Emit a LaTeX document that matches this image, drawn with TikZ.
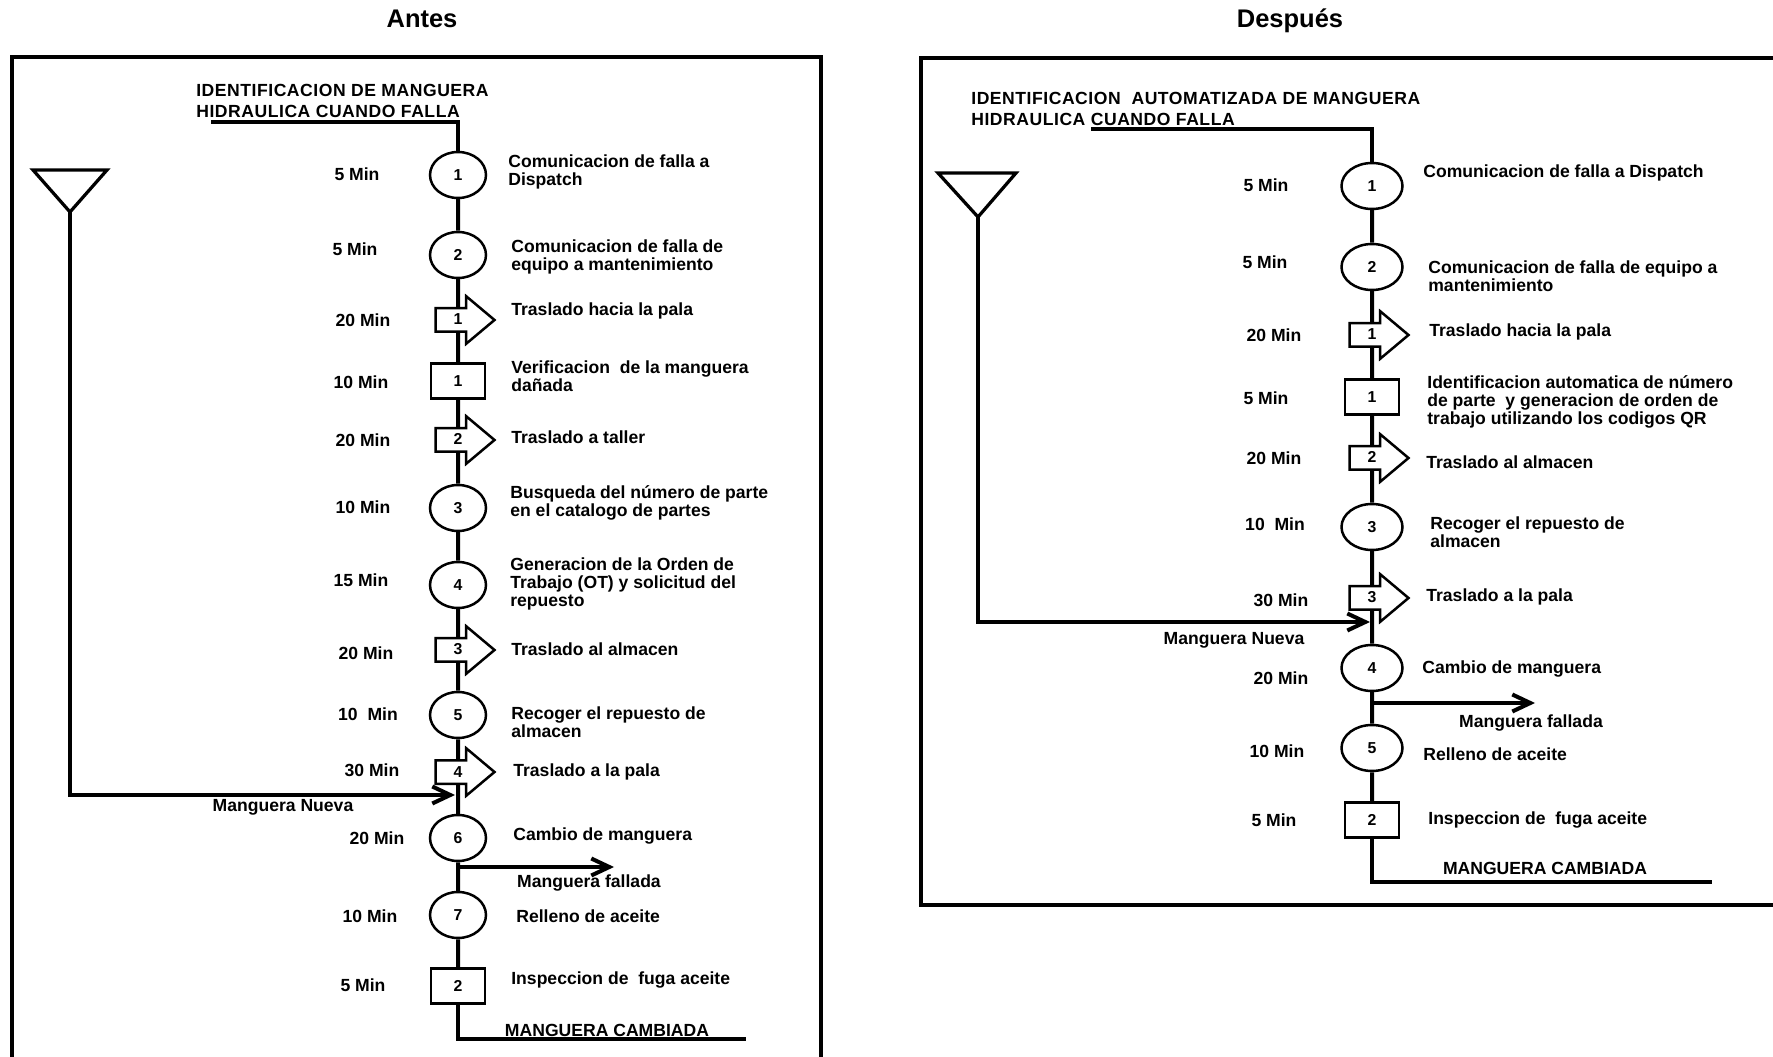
\documentclass[tikz,border=0pt]{standalone}
\usepackage{fontspec}
\setmainfont{Liberation Sans}
\usepackage{tikz}
\usetikzlibrary{arrows.meta,positioning,shapes.geometric,shapes.arrows}
\tikzset{
	flowline/.style={line width=0.8mm},
	frameline/.style={line width=0.8mm},
	opcircle/.style={draw, ellipse, fill=white, line width=0.5mm, minimum width=#1,
		minimum height=9.2mm, inner sep=0pt, font=\bfseries\fontsize{9}{9}\selectfont},
	opcircle/.default=11.2mm,
	inspbox/.style={draw, fill=white, line width=0.5mm, minimum width=10.8mm,
		minimum height=7mm, inner sep=0pt, font=\bfseries\fontsize{9}{9}\selectfont},
	movearrow/.style={draw, fill=white, single arrow, line width=0.5mm,
		single arrow head extend=2.4mm, single arrow tip angle=80,
		minimum height=11.8mm, inner xsep=0.5mm, inner ysep=1.1mm,
		text height=2mm, text depth=0pt, font=\bfseries\fontsize{9}{9}\selectfont},
	timelabel/.style={inner sep=0pt, font=\bfseries\fontsize{10}{12}\selectfont},
	steptext/.style={anchor=west, align=left, inner sep=0pt,
		font=\bfseries\fontsize{10}{10.3}\selectfont},
	sidearrow/.style={-{Straight Barb[length=3.6mm, width=3.4mm]}, line width=0.8mm}
}

\begin{document}
\begin{tikzpicture}[
			x=0.2mm, y=-0.2mm,
			paneltitle/.style={anchor=base, font=\bfseries\fontsize{14.5}{16}\selectfont},
			proctitle/.style={anchor=west, align=left, inner sep=0pt,
				font=\bfseries\fontsize{10}{12}\selectfont\addfontfeature{LetterSpace=3}}
			]
			\useasboundingbox (0,0) rectangle (1773,1057);
			
			%% -- Headers and frames
			\node[paneltitle] (hantes) at (422,28) {Antes};
			\node[paneltitle] (hdespues) at (1290,28) {Después};
			\draw[frameline] (12,1057) -- (12,57) -- (821,57) -- (821,1057);
			\draw[frameline] (1773,58) -- (921,58) -- (921,905) -- (1773,905);
			
			%% -- Antes: process name
			\node[proctitle] (lname) at (196,101)
			{IDENTIFICACION DE MANGUERA\\HIDRAULICA CUANDO FALLA};
			\coordinate (lstart) at (211,122);
			
			%% -- Antes: steps on the main line
			\node[opcircle] (l1) at (458,175) {1};
			\node[opcircle] (l2) at (458,255) {2};
			\node[movearrow] (a1) at (458,320) {1};
			\node[inspbox] (s1) at (458,381) {1};
			\node[movearrow] (a2) at (458,440) {2};
			\node[opcircle] (l3) at (458,508) {3};
			\node[opcircle] (l4) at (458,585) {4};
			\node[movearrow] (a3) at (458,650) {3};
			\node[opcircle] (l5) at (458,715) {5};
			\node[movearrow] (a4) at (458,772) {4};
			\node[opcircle] (l6) at (458,838) {6};
			\node[opcircle] (l7) at (458,915) {7};
			\node[inspbox] (s2) at (458,986) {2};
			\coordinate (lend) at (746,1039);
			
			%% -- Antes: times
			\node[timelabel] (tl1) at (357,174) {5 Min};
			\node[timelabel] (tl2) at (355,249) {5 Min};
			\node[timelabel] (tl3) at (363,320) {20 Min};
			\node[timelabel] (tl4) at (361,382) {10 Min};
			\node[timelabel] (tl5) at (363,440) {20 Min};
			\node[timelabel] (tl6) at (363,507) {10 Min};
			\node[timelabel] (tl7) at (361,580) {15 Min};
			\node[timelabel] (tl8) at (366,653) {20 Min};
			\node[timelabel] (tl9) at (368,714) {10\ \ Min};
			\node[timelabel] (tl10) at (372,770) {30 Min};
			\node[timelabel] (tl11) at (377,838) {20 Min};
			\node[timelabel] (tl12) at (370,916) {10 Min};
			\node[timelabel] (tl13) at (363,985) {5 Min};
			
			%% -- Antes: step texts
			\node[steptext] (dl1) at (508,172) {Comunicacion de falla a\\Dispatch};
			\node[steptext] (dl2) at (511,257) {Comunicacion de falla de\\equipo a mantenimiento};
			\node[steptext] (dl3) at (511,311) {Traslado hacia la pala};
			\node[steptext] (dl4) at (511,376) {Verificacion\ \ de la manguera\\dañada};
			\node[steptext] (dl5) at (511,437) {Traslado a taller};
			\node[steptext] (dl6) at (510,503) {Busqueda del número de parte\\en el catalogo de partes};
			\node[steptext] (dl7) at (510,584) {Generacion de la Orden de\\Trabajo (OT) y solicitud del\\repuesto};
			\node[steptext] (dl8) at (511,649) {Traslado al almacen};
			\node[steptext] (dl9) at (511,722) {Recoger el repuesto de\\almacen};
			\node[steptext] (dl10) at (513,772) {Traslado a la pala};
			\node[steptext] (dl11) at (513,836) {Cambio de manguera};
			\node[steptext] (dl12) at (516,916) {Relleno de aceite};
			\node[steptext] (dl13) at (511,980) {Inspeccion de\ \ fuga aceite};
			
			%% -- Antes: main line
			\draw[flowline] (lstart) -| (l1);
			\draw[flowline] (l1) -- (l2) (l2) -- (a1) (a1) -- (s1) (s1) -- (a2)
			(a2) -- (l3) (l3) -- (l4) (l4) -- (a3) (a3) -- (l5) (l5) -- (a4)
			(a4) -- (l6) (l6) -- (l7) (l7) -- (s2);
			\draw[flowline] (s2) |- (lend);
			\node[timelabel] (lendtxt) at (607,1030) {MANGUERA CAMBIADA};
			
			%% -- Antes: new hose in, failed hose out
			\coordinate (ltri) at (70,212);
			\draw[line width=0.65mm] (ltri) -- (33,170) -- (107,170) -- cycle;
			\coordinate (lnew) at (455,795);
			\draw[sidearrow] (ltri) |- (lnew);
			\node[timelabel] (lnewtxt) at (283,807) {Manguera Nueva};
			\coordinate (lout) at (458,867);
			\coordinate (loutend) at (614,867);
			\draw[sidearrow] (lout) -- (loutend);
			\node[timelabel] (louttxt) at (589,883) {Manguera fallada};
			
			%% -- Despues: process name
			\node[proctitle] (rname) at (971,109)
			{IDENTIFICACION\ \ AUTOMATIZADA DE MANGUERA\\HIDRAULICA CUANDO FALLA};
			\coordinate (rstart) at (1091,129);
			
			%% -- Despues: steps on the main line
			\node[opcircle=12.2mm] (r1) at (1372,186) {1};
			\node[opcircle=12.2mm] (r2) at (1372,267) {2};
			\node[movearrow] (ra1) at (1372,335) {1};
			\node[inspbox] (rs1) at (1372,397) {1};
			\node[movearrow] (ra2) at (1372,458) {2};
			\node[opcircle=12.2mm] (r3) at (1372,527) {3};
			\node[movearrow] (ra3) at (1372,598) {3};
			\node[opcircle=12.2mm] (r4) at (1372,668) {4};
			\node[opcircle=12.2mm] (r5) at (1372,748) {5};
			\node[inspbox] (rs2) at (1372,820) {2};
			\coordinate (rend) at (1712,882);
			
			%% -- Despues: times
			\node[timelabel] (tr1) at (1266,185) {5 Min};
			\node[timelabel] (tr2) at (1265,262) {5 Min};
			\node[timelabel] (tr3) at (1274,335) {20 Min};
			\node[timelabel] (tr4) at (1266,398) {5 Min};
			\node[timelabel] (tr5) at (1274,458) {20 Min};
			\node[timelabel] (tr6) at (1275,524) {10\ \ Min};
			\node[timelabel] (tr7) at (1281,600) {30 Min};
			\node[timelabel] (tr8) at (1281,678) {20 Min};
			\node[timelabel] (tr9) at (1277,751) {10 Min};
			\node[timelabel] (tr10) at (1274,820) {5 Min};
			
			%% -- Despues: step texts
			\node[steptext] (dr1) at (1423,173) {Comunicacion de falla a Dispatch};
			\node[steptext] (dr2) at (1428,276) {Comunicacion de falla de equipo a\\mantenimiento};
			\node[steptext] (dr3) at (1429,332) {Traslado hacia la pala};
			\node[steptext] (dr4) at (1427,402) {Identificacion automatica de número\\de parte\ \ y generacion de orden de\\trabajo utilizando los codigos QR};
			\node[steptext] (dr5) at (1426,462) {Traslado al almacen};
			\node[steptext] (dr6) at (1430,532) {Recoger el repuesto de\\almacen};
			\node[steptext] (dr7) at (1426,597) {Traslado a la pala};
			\node[steptext] (dr8) at (1422,669) {Cambio de manguera};
			\node[steptext] (dr9) at (1423,754) {Relleno de aceite};
			\node[steptext] (dr10) at (1428,820) {Inspeccion de\ \ fuga aceite};
			
			%% -- Despues: main line
			\draw[flowline] (rstart) -| (r1);
			\draw[flowline] (r1) -- (r2) (r2) -- (ra1) (ra1) -- (rs1) (rs1) -- (ra2)
			(ra2) -- (r3) (r3) -- (ra3) (ra3) -- (r4) (r4) -- (r5) (r5) -- (rs2);
			\draw[flowline] (rs2) |- (rend);
			\node[timelabel] (rendtxt) at (1545,868) {MANGUERA CAMBIADA};
			
			%% -- Despues: new hose in, failed hose out
			\coordinate (rtri) at (978,217);
			\draw[line width=0.65mm] (rtri) -- (938,173) -- (1016,173) -- cycle;
			\coordinate (rnew) at (1370,622);
			\draw[sidearrow] (rtri) |- (rnew);
			\node[timelabel] (rnewtxt) at (1234,640) {Manguera Nueva};
			\coordinate (rout) at (1372,703);
			\coordinate (routend) at (1535,703);
			\draw[sidearrow] (rout) -- (routend);
			\node[timelabel] (routtxt) at (1531,723) {Manguera fallada};
			
		\end{tikzpicture}
\end{document}
